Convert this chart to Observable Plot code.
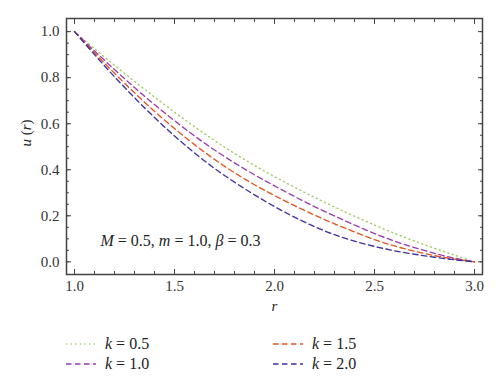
<!DOCTYPE html>
<html><head><meta charset="utf-8">
<script src="https://cdn.jsdelivr.net/npm/d3@7"></script>
<script src="https://cdn.jsdelivr.net/npm/@observablehq/plot@0.6"></script>
<style>
body{margin:0;background:#fff;font-family:'Liberation Serif',serif;}
#chart{position:relative;width:500px;height:387px;font-family:'Liberation Serif',serif;}
#legend{position:absolute;left:0;top:320px;width:500px;height:67px;}
.item{position:absolute;height:20px;display:flex;align-items:center;}
.item svg{margin-right:9px;}
.item span{font-size:16px;color:#222;font-family:'Liberation Serif',serif;}
.item i{font-style:italic;}
</style></head><body><div id="chart"></div><script>
// ---- data ----
const r = [1.0,1.1,1.2,1.3,1.4,1.5,1.6,1.7,1.8,1.9,2.0,2.1,2.2,2.3,2.4,2.5,2.6,2.7,2.8,2.9,3.0];
const uK05 = [1.000,0.926,0.854,0.784,0.716,0.650,0.587,0.527,0.471,0.419,0.370,0.324,0.280,0.238,0.198,0.160,0.124,0.090,0.059,0.029,0.000];
const uK10 = [1.000,0.916,0.835,0.757,0.683,0.613,0.547,0.486,0.430,0.378,0.330,0.284,0.240,0.199,0.160,0.123,0.090,0.062,0.037,0.016,0.000];
const uK15 = [1.000,0.908,0.819,0.734,0.654,0.579,0.509,0.445,0.387,0.335,0.288,0.244,0.203,0.165,0.130,0.096,0.069,0.046,0.027,0.012,0.000];
const uK20 = [1.000,0.900,0.804,0.713,0.627,0.547,0.473,0.406,0.346,0.291,0.240,0.194,0.153,0.118,0.090,0.067,0.048,0.033,0.020,0.009,0.000];
const kValues = ["0.5","1.0","1.5","2.0"];
const seriesU = [uK05,uK10,uK15,uK20];
const colors = ["#9dcc62","#9b3db0","#e4561f","#3f33a2"];
const dashes = ["1.2,3.4","5.5,3.5","5.5,3.5","5.5,3.5"];
const xMajor = [1.0,1.5,2.0,2.5,3.0];
const xMinor = [1.0,1.1,1.2,1.3,1.4,1.5,1.6,1.7,1.8,1.9,2.0,2.1,2.2,2.3,2.4,2.5,2.6,2.7,2.8,2.9,3.0];
const yMajor = [0.0,0.2,0.4,0.6,0.8,1.0];
const yMinor = [0.0,0.05,0.1,0.15,0.2,0.25,0.3,0.35,0.4,0.45,0.5,0.55,0.6,0.65,0.7,0.75,0.8,0.85,0.9,0.95,1.0];
const annotation = "M = 0.5, m = 1.0, β = 0.3";

const rows = [];
seriesU.forEach((u, s) => r.forEach((rv, i) => rows.push({r: rv, u: u[i], k: kValues[s]})));

const axisColor = "#444";
const fmt = d3.format(".1f");
const serif = "'Liberation Serif', serif";

const lineMarks = kValues.map((k, s) =>
  Plot.line(rows.filter(d => d.k === k), {x: "r", y: "u", stroke: colors[s], strokeWidth: 1.35, strokeDasharray: dashes[s], curve: "catmull-rom"})
);

const chart = Plot.plot({
  width: 500, height: 320,
  marginLeft: 66, marginRight: 18, marginTop: 18, marginBottom: 46,
  style: "font-size:15px;color:#333;background:#fff;",
  x: {domain: [0.96, 3.04]},
  y: {domain: [-0.055, 1.057]},
  marks: [
    ...lineMarks,
    Plot.frame({stroke: axisColor, strokeWidth: 1.5}),
    Plot.axisX(xMajor, {anchor: "bottom", tickSize: -5, tickPadding: 11, tickFormat: fmt, label: null, stroke: axisColor, fill: "#333", fontSize: 15}),
    Plot.axisX(xMinor, {anchor: "bottom", tickSize: -3, text: null, label: null, stroke: axisColor}),
    Plot.axisX(xMajor, {anchor: "top", tickSize: -5, text: null, label: null, stroke: axisColor}),
    Plot.axisX(xMinor, {anchor: "top", tickSize: -3, text: null, label: null, stroke: axisColor}),
    Plot.axisY(yMajor, {anchor: "left", tickSize: -5, tickPadding: 12, tickFormat: fmt, label: null, stroke: axisColor, fill: "#333", fontSize: 15}),
    Plot.axisY(yMinor, {anchor: "left", tickSize: -3, text: null, label: null, stroke: axisColor}),
    Plot.axisY(yMajor, {anchor: "right", tickSize: -5, text: null, label: null, stroke: axisColor}),
    Plot.axisY(yMinor, {anchor: "right", tickSize: -3, text: null, label: null, stroke: axisColor}),
    Plot.text(["u (r)"], {frameAnchor: "left", dx: -40, rotate: -90, fontSize: 15, fill: "#222"}),
    Plot.text(["r"], {frameAnchor: "bottom", dy: 36, fontSize: 15, fontStyle: "italic", fill: "#222"}),
    Plot.text([annotation], {frameAnchor: "bottom-left", dx: 34, dy: -29, textAnchor: "start", fontSize: 16, fill: "#222"})
  ]
});

// serif font on every text, italic math letters inside the texts
d3.select(chart).attr("font-family", serif).style("font-family", serif);
d3.select(chart).selectAll("text").attr("font-family", serif).style("font-family", serif);
d3.select(chart).selectAll("text").each(function() {
  const t = this.textContent;
  const parts = t === "u (r)" ? [["u",1],[" (",0],["r",1],[")",0]]
    : t === annotation ? [["M",1],[" = 0.5, ",0],["m",1],[" = 1.0, ",0],["β",1],[" = 0.3",0]]
    : null;
  if (!parts) return;
  const el = d3.select(this);
  const holder = el.select("tspan").empty() ? el : el.select("tspan");
  holder.text(null);
  parts.forEach(([s, it]) => holder.append("tspan").attr("font-style", it ? "italic" : "normal").text(s));
});

const root = document.getElementById("chart");
root.appendChild(chart);

const legend = document.createElement("div");
legend.id = "legend";
const legendPos = [[66, 14], [66, 34], [273, 14], [273, 34]];
[0, 1, 2, 3].forEach(s => {
  const item = document.createElement("div");
  item.className = "item";
  item.style.left = legendPos[s][0] + "px";
  item.style.top = legendPos[s][1] + "px";
  item.innerHTML = `<svg width="30" height="6"><line x1="0" y1="3" x2="30" y2="3" stroke="${colors[s]}" stroke-width="1.6" stroke-dasharray="${dashes[s]}"/></svg><span style="font-family:'Liberation Serif',serif"><i>k</i> = ${kValues[s]}</span>`;
  legend.appendChild(item);
});
root.appendChild(legend);
</script></body></html>
